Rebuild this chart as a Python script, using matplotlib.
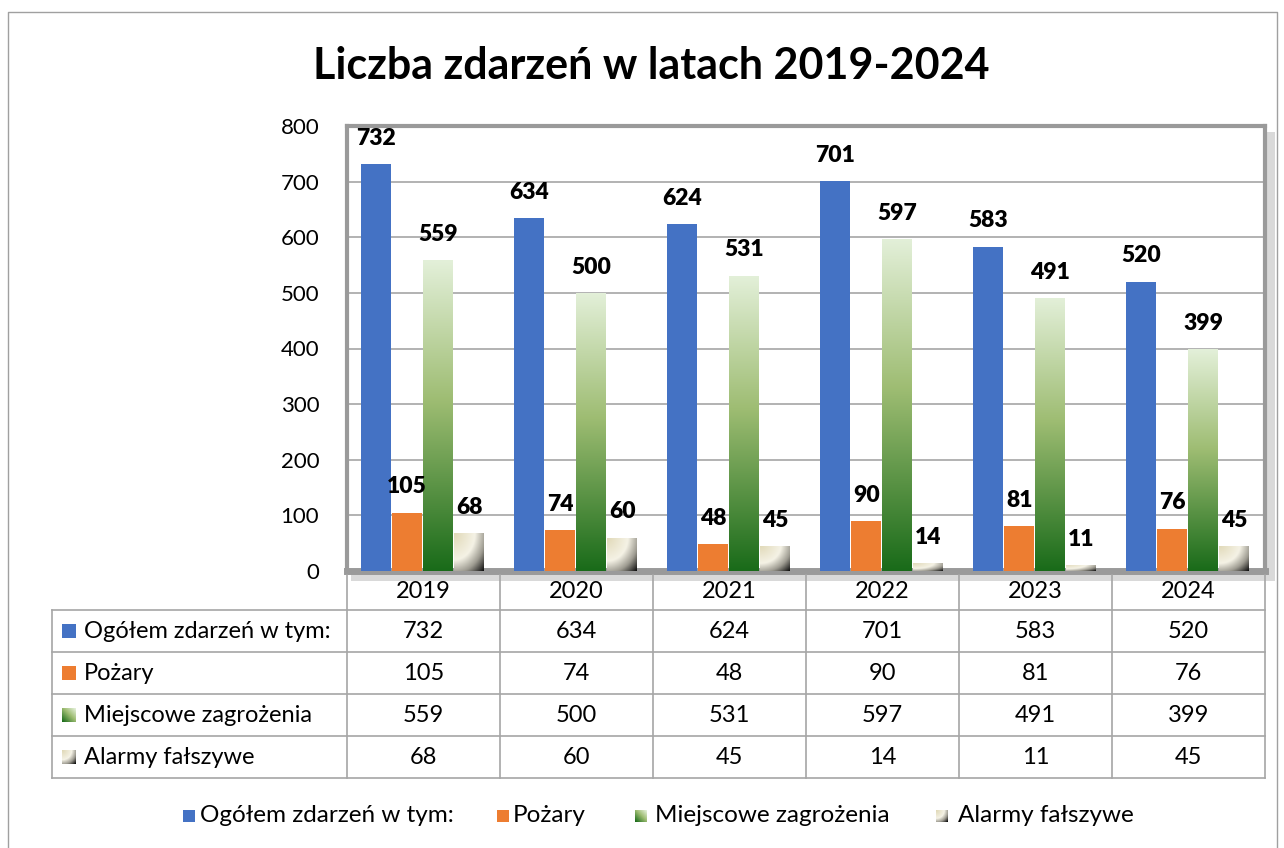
import numpy as np
import matplotlib
matplotlib.use('Agg')
import matplotlib.pyplot as plt
from matplotlib.lines import Line2D

plt.rcParams['font.family'] = ['Lato', 'DejaVu Sans']

years = ['2019', '2020', '2021', '2022', '2023', '2024']
series_names = ['Ogółem zdarzeń w tym:', 'Pożary', 'Miejscowe zagrożenia', 'Alarmy fałszywe']
ogolem = [732, 634, 624, 701, 583, 520]
pozary = [105, 74, 48, 90, 81, 76]
miejscowe = [559, 500, 531, 597, 491, 399]
alarmy = [68, 60, 45, 14, 11, 45]
y_ticks = [0, 100, 200, 300, 400, 500, 600, 700, 800]

series = [ogolem, pozary, miejscowe, alarmy]

W, H = 1284, 848
fig = plt.figure(figsize=(W / 100, H / 100), dpi=100)


def fx(px):
    return px / W


def fy(py):
    return 1 - py / H


GRID = '#a6a6a6'
L, R, T, B = 347, 1265, 126, 571

# frame shadow
fig.patches.append(plt.Rectangle((fx(L + 4), fy(B + 10)), fx(R - L + 6), fy(T + 6) - fy(B + 10),
                                 transform=fig.transFigure, facecolor='#d9d9d9', edgecolor='none',
                                 zorder=-5))

ax = fig.add_axes([fx(L), fy(B), fx(R) - fx(L), fy(T) - fy(B)])
ax.set_facecolor('white')


def stops_to_img(t, stops):
    pos = [s[0] for s in stops]
    cols = np.array([s[1] for s in stops])
    out = np.zeros(t.shape + (3,))
    for c in range(3):
        out[..., c] = np.interp(t, pos, cols[:, c])
    return out


GREEN_STOPS = [(0, (0.89, 0.94, 0.85)), (0.45, (0.62, 0.74, 0.45)), (1, (0.10, 0.42, 0.10))]
BEIGE_STOPS = [(0, (0.88, 0.85, 0.72)), (0.5, (0.96, 0.95, 0.90)),
               (0.75, (0.62, 0.61, 0.57)), (1, (0.05, 0.05, 0.05))]


def green_img():
    t = np.linspace(0, 1, 128)[:, None] * np.ones((1, 8))
    return stops_to_img(t, GREEN_STOPS)


def beige_img(h=64, w=32):
    v, u = np.mgrid[0:1:h * 1j, 0:1:w * 1j]
    r = np.sqrt(u ** 2 + v ** 2) / np.sqrt(2)
    return stops_to_img(r, BEIGE_STOPS)


x = np.arange(len(years))
bw = 0.195
offsets = [-0.31, -0.107, 0.096, 0.299]
solid = ['#4472c4', '#ed7d31', None, None]

for k, vals in enumerate(series):
    bars = ax.bar(x + offsets[k], vals, width=bw, color=solid[k] if solid[k] else 'none',
                  edgecolor='none', zorder=3)
    for b, v in zip(bars, vals):
        if k == 2:
            im = ax.imshow(green_img(), extent=[b.get_x(), b.get_x() + bw, 0, v],
                           aspect='auto', zorder=3, interpolation='bilinear')
            im.set_clip_path(b)
        elif k == 3:
            im = ax.imshow(beige_img(), extent=[b.get_x(), b.get_x() + bw, 0, v],
                           aspect='auto', zorder=3, interpolation='bilinear')
            im.set_clip_path(b)
        ax.annotate(str(v), (b.get_x() + bw / 2, v), xytext=(0, 11), textcoords='offset points',
                    ha='center', va='bottom', fontsize=16.5, fontweight='heavy', zorder=5,
                    annotation_clip=False)

ax.set_xlim(-0.5, len(years) - 0.5)
ax.set_ylim(0, 800)
ax.set_yticks(y_ticks)
ax.set_yticklabels([str(t) for t in y_ticks], fontsize=16)
ax.set_xticks([])
ax.tick_params(axis='y', length=0, pad=20)
ax.yaxis.grid(True, color=GRID, linewidth=1.2, zorder=0)
ax.set_axisbelow(True)
for s in ax.spines.values():
    s.set_color('#9a9a9a')
    s.set_linewidth(3)
ax.spines['bottom'].set_linewidth(5)

# title
fig.text(0.507, fy(66), 'Liczba zdarzeń w latach 2019-2024', ha='center', va='center',
         fontsize=31, fontweight='bold')

# data table
line_kw = dict(color=GRID, linewidth=1.2, transform=fig.transFigure)
row_y = [610, 652, 694, 736, 778]
for yy in row_y:
    fig.lines.append(Line2D([fx(52), fx(R)], [fy(yy), fy(yy)], **line_kw))
fig.lines.append(Line2D([fx(52), fx(52)], [fy(610), fy(778)], **line_kw))
cw = (R - L) / len(years)
for i in range(len(years) + 1):
    xx = L + i * cw
    fig.lines.append(Line2D([fx(xx), fx(xx)], [fy(B + 4), fy(778)], **line_kw))

for i, yr in enumerate(years):
    fig.text(fx(L + (i + 0.5) * cw), fy(591), yr, ha='center', va='center', fontsize=17)


def square(k, n):
    if k < 2:
        return np.ones((n, n, 3)) * np.array(matplotlib.colors.to_rgb(solid[k]))
    v, u = np.mgrid[0:1:n * 1j, 0:1:n * 1j]
    if k == 2:
        return stops_to_img(0.5 * (1 - u) + 0.5 * v, GREEN_STOPS)
    return stops_to_img(np.sqrt(u ** 2 + v ** 2) / np.sqrt(2), BEIGE_STOPS)


for r, name in enumerate(series_names):
    cy = (row_y[r] + row_y[r + 1]) / 2
    fig.figimage(square(r, 14), xo=62, yo=int(H - cy - 7), origin='upper', zorder=5)
    fig.text(fx(84), fy(cy), name, ha='left', va='center', fontsize=17)
    for i, v in enumerate(series[r]):
        fig.text(fx(L + (i + 0.5) * cw), fy(cy), str(v), ha='center', va='center', fontsize=17)

# legend
leg_sq = [183, 497, 635, 936]
leg_tx = [200, 513, 655, 958]
for k, name in enumerate(series_names):
    fig.figimage(square(k, 12), xo=leg_sq[k], yo=int(H - 816 - 6), origin='upper', zorder=5)
    fig.text(fx(leg_tx[k]), fy(815), name, ha='left', va='center', fontsize=17.5)

# outer border
fig.lines.append(Line2D([fx(8), fx(8), fx(1277), fx(1277)], [0, fy(12), fy(12), 0],
                        color='#a0a0a0', linewidth=1, transform=fig.transFigure))

fig.savefig('out.png', dpi=100)
